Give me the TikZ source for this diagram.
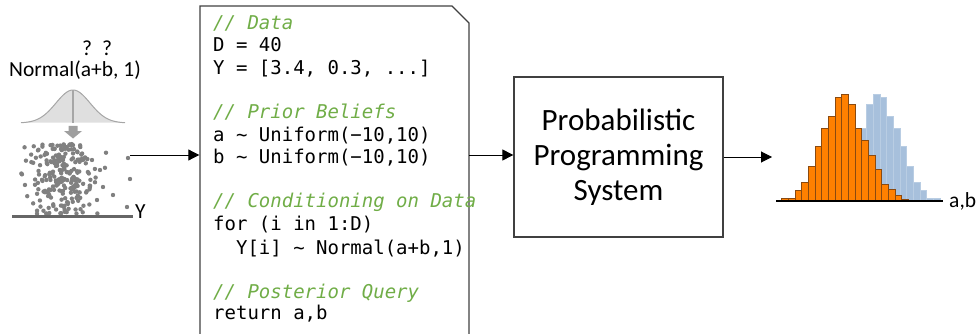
\documentclass[tikz,border=0pt]{standalone}
\usepackage{fontspec}
\setmainfont{Carlito}
\newfontfamily\codefont{DejaVu Sans Mono}
\usetikzlibrary{arrows.meta}
\definecolor{cmt}{HTML}{70AD47}
\definecolor{boxc}{HTML}{404040}
\definecolor{dotc}{HTML}{808080}
\definecolor{orng}{HTML}{FF8000}
\definecolor{orngd}{HTML}{8A4A10}
\definecolor{blu}{HTML}{A7C0DC}
\definecolor{blud}{HTML}{B9CDE3}
\tikzset{
  conn/.style={draw=black, line width=1pt, -{Triangle[length=11pt,width=11pt]}},
  codeline/.style={anchor=base west, inner sep=0pt, font=\codefont\fontsize{19}{22}\selectfont},
  cmtline/.style={codeline, text=cmt, font=\codefont\itshape\fontsize{19}{22}\selectfont},
  sanslabel/.style={inner sep=0pt, font=\fontsize{21.5}{25}\selectfont},
}
\begin{document}
\begin{tikzpicture}[x=1pt,y=-1pt]
\useasboundingbox (0,0) rectangle (979,334);
% ---------- left: normal distribution and data ----------
\node[sanslabel, anchor=base] (q1) at (87,56) {?};
\node[sanslabel, anchor=base] (q2) at (107,56) {?};
\node[sanslabel, anchor=base west] (normal) at (9,77) {Normal(a+b, 1)};
\fill[gray!25] plot[domain=-52:52, samples=80] ({73+\x},{123-33*exp(-(\x*\x)/(2*17*17))}) -- cycle;
\draw[gray!70, line width=1pt] plot[domain=-52:52, samples=80] ({73+\x},{123-33*exp(-(\x*\x)/(2*17*17))});
\draw[gray!70, line width=1.2pt] (73,90) -- (73,123);
\fill[gray!75] (68.5,126) -- (77.5,126) -- (77.5,131) -- (82,131) -- (73,138.5) -- (64,131) -- (68.5,131) -- cycle;
% scatter
\pgfmathsetseed{11}
\foreach \i in {1,...,230}{
  \pgfmathsetmacro\px{max(15,min(128,62+16*(rand+rand+rand)))}
  \pgfmathsetmacro\py{144+70*rnd}
  \fill[dotc] (\px,\py) circle[radius=2.2pt];
}
\foreach \px/\py in {106/152.7,128/158,130/179,113/195,127/207,103/187,97/200,92/160,100/170}{
  \fill[dotc] (\px,\py) circle[radius=2.2pt];
}
\draw[gray!80!black, line width=2.2pt] (12,216.5) -- (133,216.5);
\node[sanslabel, anchor=base west] (ylab) at (135,218) {Y};
\coordinate (scatR) at (130,155);
% ---------- code box ----------
\draw[boxc, line width=1.4pt] (200,334) -- (200,6) -- (452,6) -- (469,23) -- (469,334);
\coordinate (codeL) at (199.3,155);
\coordinate (codeR) at (469,155);
\node[cmtline]  (c1)  at (213,29.5) {// Data};
\node[codeline] (c2)  at (213,51.8) {D = 40};
\node[codeline] (c3)  at (213,74.1) {Y = [3.4, 0.3, ...]};
\node[cmtline]  (c5)  at (213,118.7) {// Prior Beliefs};
\node[codeline] (c6)  at (213,141.0) {a \textasciitilde{} Uniform(−10,10)};
\node[codeline] (c7)  at (213,163.3) {b \textasciitilde{} Uniform(−10,10)};
\node[cmtline]  (c9)  at (213,207.9) {// Conditioning on Data};
\node[codeline] (c10) at (213,230.2) {for (i in 1:D)};
\node[codeline] (c11) at (213,254) {\phantom{xx}Y[i] \textasciitilde{} Normal(a+b,1)};
\node[cmtline]  (c13) at (213,298.5) {// Posterior Query};
\node[codeline] (c14) at (213,319.5) {return a,b};
% ---------- PPS box ----------
\node[draw=boxc, line width=1.3pt, minimum width=209pt, minimum height=160pt, align=center,
      font=\fontsize{31}{35}\selectfont] (pps) at (618.5,157) {Probabilistic\\Programming\\System};
% ---------- histogram ----------
\def\bw{6.667}
\foreach \h [count=\k from 0] in {1.7,5.7,11.3,16.7,31.3,46,61,73,96.3,106.7,103.7,84.3,72.3,55,35,18.7,10.3,3,2.3}{
  \filldraw[fill=blu, draw=blud, line width=0.8pt] ({813.3+\bw*\k},201) rectangle ({813.3+\bw*(\k+1)},{201-\h});
}
\foreach \h [count=\k from 0] in {2.3,3,10.3,18.7,35,55,72.3,84.3,103.7,106.7,96.3,73,61,46,31.3,16.7,11.3,5.7,1.7}{
  \filldraw[fill=orng, draw=orngd, line width=0.9pt] ({781.7+\bw*\k},201) rectangle ({781.7+\bw*(\k+1)},{201-\h});
}
\draw[black, line width=1.6pt] (776,201) -- (943,201);
\node[sanslabel, anchor=base west] (ab) at (949,207) {a,b};
\coordinate (histL) at (772,157);
% ---------- connectors ----------
\draw[conn] (scatR) -- (codeL);
\draw[conn] (codeR) -- (pps.west |- codeR);
\draw[conn] (pps.east) -- (histL);
\end{tikzpicture}
\end{document}
